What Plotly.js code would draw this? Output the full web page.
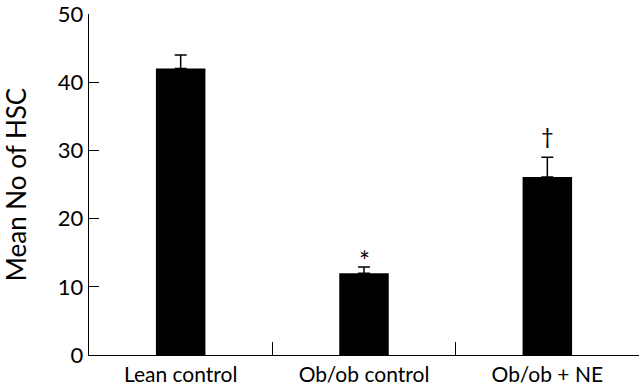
<!DOCTYPE html>
<html><head><meta charset="utf-8">
<script src="https://cdn.plot.ly/plotly-3.0.1.min.js"></script>
<style>html,body{margin:0;padding:0;background:#fff}#chart{width:640px;height:388px}</style>
</head><body><div id="chart"></div>
<script>
const categories = ["Lean control", "Ob/ob control", "Ob/ob + NE"];
const means = [42, 12, 26.1];
const sems = [2, 0.9, 2.9];
const marks = ["", "*", "†"];
const yTicks = [0, 10, 20, 30, 40, 50];

const FONT = "Lato, 'Noto Sans', sans-serif";

const trace = {
  type: "bar",
  x: categories,
  y: means,
  width: 0.27,
  marker: {color: "#000", line: {width: 0}},
  error_y: {type: "data", symmetric: false, array: sems, arrayminus: sems.map(() => 0),
            color: "#000", thickness: 1.5, width: 6},
  hoverinfo: "none"
};

const annotations = categories.map((c, i) => ({
  x: c, y: means[i] + sems[i], text: marks[i], showarrow: false,
  yanchor: "bottom", yshift: marks[i] === "*" ? -12 : 6,
  font: {family: FONT, size: marks[i] === "*" ? 26 : 22, color: "#000"}
})).filter(a => a.text);

const layout = {
  width: 640, height: 388,
  margin: {l: 89, r: 1, t: 14, b: 33},
  paper_bgcolor: "#fff", plot_bgcolor: "#fff",
  showlegend: false,
  font: {family: FONT, color: "#000", size: 21},
  xaxis: {
    type: "category", showgrid: false, zeroline: false,
    showline: true, linecolor: "#000", linewidth: 1.3,
    ticks: "inside", tickson: "boundaries", ticklen: 13, tickcolor: "#000", tickwidth: 1.5,
    tickfont: {family: FONT, size: 21, color: "#000"}
  },
  yaxis: {
    range: [0, 50], showgrid: false, zeroline: false,
    showline: true, linecolor: "#000", linewidth: 1.3,
    ticks: "inside", ticklen: 10, tickcolor: "#000", tickwidth: 1.3,
    tickmode: "array", tickvals: yTicks, ticktext: yTicks.map(String),
    ticklabeloverflow: "allow",
    tickfont: {family: FONT, size: 22, color: "#000"},
    title: {text: "Mean No of HSC", font: {family: FONT, size: 26, color: "#000"}, standoff: 27}
  },
  annotations: annotations
};

Plotly.newPlot("chart", [trace], layout, {displayModeBar: false, staticPlot: true});
</script></body></html>
